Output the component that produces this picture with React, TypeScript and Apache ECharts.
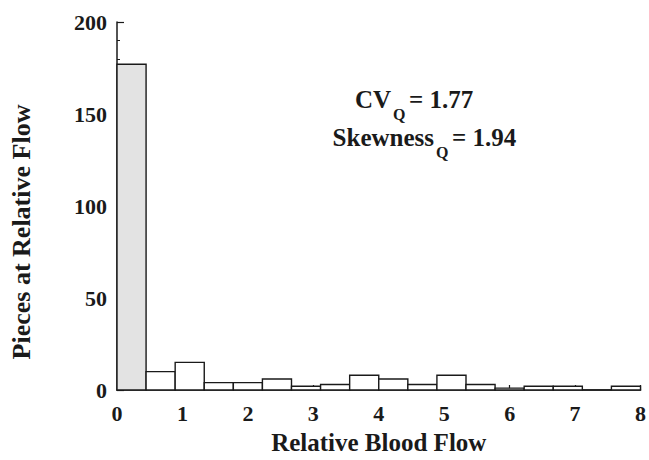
import React, { useEffect, useRef } from 'react';
import * as echarts from 'echarts';

// Histogram: 18 equal bins spanning relative flow 0..8
const binCount = 18;
const flowMax = 8;
const counts = [177, 10, 15, 4, 4, 6, 2, 3, 8, 6, 3, 8, 3, 1, 2, 2, 0, 2];
const xTickValues = [0, 1, 2, 3, 4, 5, 6, 7, 8];
const yTickValues = [0, 50, 100, 150, 200];
const xTitle = 'Relative Blood Flow';
const yTitle = 'Pieces at Relative Flow';
const cvLabel = 'CV';
const cvValue = '= 1.77';
const skewLabel = 'Skewness';
const skewValue = '= 1.94';
const subLabel = 'Q';

const FONT = 'Liberation Serif';
const INK = '#1a1a1a';

export default function App() {
  const ref = useRef<HTMLDivElement>(null);
  useEffect(() => {
    if (!ref.current) return;
    const chart = echarts.init(ref.current, null, { renderer: 'svg' });
    const w = flowMax / binCount;
    const data = counts.map((c, i) => [i * w, (i + 1) * w, c]);
    const mainText = { fontFamily: FONT, fontWeight: 'bold', fontSize: 25, fill: INK };
    const subText = { fontFamily: FONT, fontWeight: 'bold', fontSize: 16, fill: INK };
    chart.setOption({
      animation: false,
      backgroundColor: '#ffffff',
      grid: { left: 117, right: 7, top: 22, bottom: 62, containLabel: false },
      xAxis: {
        type: 'value',
        min: 0,
        max: flowMax,
        interval: 1,
        name: xTitle,
        nameLocation: 'middle',
        nameGap: 40,
        nameTextStyle: { fontFamily: FONT, fontWeight: 'bold', fontSize: 25, color: INK },
        axisLine: { show: true, lineStyle: { color: INK, width: 1.5 } },
        axisTick: { show: true, inside: true, length: 5, lineStyle: { color: INK, width: 1.2 } },
        axisLabel: {
          margin: 12,
          fontFamily: FONT, fontWeight: 'bold', fontSize: 22, color: INK,
          formatter: (v: number) => (xTickValues.includes(v) ? String(v) : ''),
        },
        splitLine: { show: false },
      },
      yAxis: {
        type: 'value',
        min: 0,
        max: 200,
        interval: 50,
        axisLine: { show: true, lineStyle: { color: INK, width: 1.5 } },
        axisTick: { show: true, inside: true, length: 7, lineStyle: { color: INK, width: 1.2 } },
        minorTick: { show: true, splitNumber: 5, length: 3, lineStyle: { color: INK, width: 1 } },
        axisLabel: {
          margin: 10,
          fontFamily: FONT, fontWeight: 'bold', fontSize: 22, color: INK,
          formatter: (v: number) => (yTickValues.includes(v) ? String(v) : ''),
        },
        splitLine: { show: false },
      },
      series: [
        {
          type: 'custom',
          encode: { x: [0, 1], y: 2 },
          data,
          renderItem: (params: any, api: any) => {
            const p0 = api.coord([api.value(0), api.value(2)]);
            const p1 = api.coord([api.value(1), 0]);
            return {
              type: 'rect',
              shape: { x: p0[0], y: p0[1], width: p1[0] - p0[0], height: p1[1] - p0[1] },
              style: {
                fill: params.dataIndex === 0 ? '#e3e3e3' : '#ffffff',
                stroke: INK,
                lineWidth: 1.4,
              },
            };
          },
        },
      ],
      graphic: [
        {
          type: 'text', x: 21, y: 232, rotation: Math.PI / 2,
          style: { fontFamily: FONT, fontWeight: 'bold', fontSize: 26, fill: INK, text: yTitle, align: 'center', verticalAlign: 'middle' },
        },
        { type: 'text', x: 391, y: 99, style: { ...mainText, text: cvLabel, align: 'right', verticalAlign: 'middle' } },
        { type: 'text', x: 393, y: 114, style: { ...subText, text: subLabel, align: 'left', verticalAlign: 'middle' } },
        { type: 'text', x: 409, y: 99, style: { ...mainText, text: cvValue, align: 'left', verticalAlign: 'middle' } },
        { type: 'text', x: 434, y: 137.5, style: { ...mainText, text: skewLabel, align: 'right', verticalAlign: 'middle' } },
        { type: 'text', x: 436, y: 152, style: { ...subText, text: subLabel, align: 'left', verticalAlign: 'middle' } },
        { type: 'text', x: 452, y: 137.5, style: { ...mainText, text: skewValue, align: 'left', verticalAlign: 'middle' } },
      ],
    });
    return () => chart.dispose();
  }, []);
  return <div ref={ref} style={{ width: 649, height: 460, position: 'absolute', left: 0, top: 0 }} />;
}
